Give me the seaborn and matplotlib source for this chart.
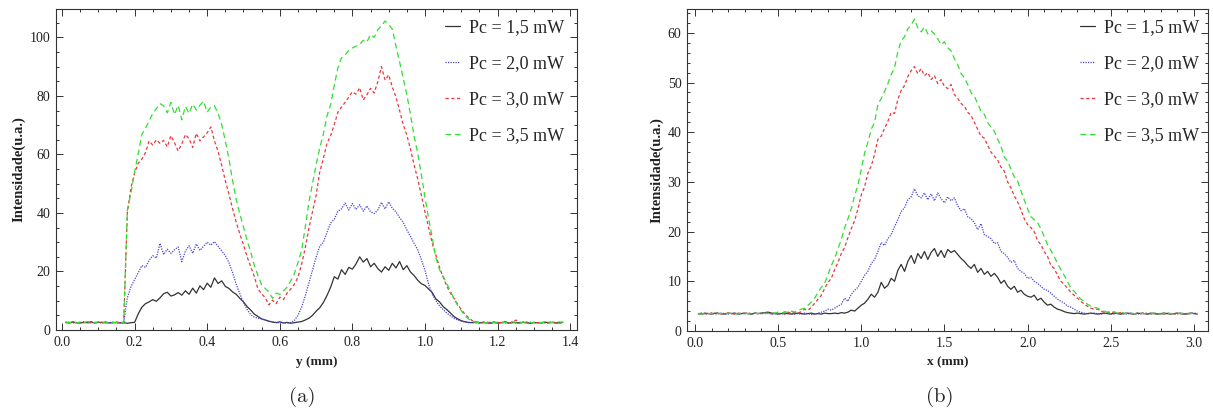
import numpy as np
import pandas as pd
import matplotlib
matplotlib.use("Agg")
import matplotlib.pyplot as plt
import seaborn as sns
from matplotlib.ticker import MultipleLocator, FormatStrFormatter

# ---------------- data: panel (a), y (mm) ----------------
y_mm = np.round(np.linspace(0.01, 1.38, 138), 2)

a_15 = [2.6,2.4,2.7,2.5,2.4,2.6,2.5,2.8,2.4,2.6,
        2.5,2.7,2.4,2.5,2.6,2.4,2.5,2.3,2.5,2.6,
        5.5,7.8,9.0,9.6,10.4,9.8,11.0,12.4,12.9,11.6,
        12.0,12.8,11.9,13.4,12.2,14.3,12.6,15.1,13.8,16.0,
        14.6,17.8,15.9,16.8,14.9,14.2,13.0,12.2,10.8,9.6,
        8.0,6.8,5.4,4.6,3.8,3.4,3.0,2.7,2.5,2.8,
        2.4,2.6,2.3,2.5,2.7,2.9,3.4,4.0,5.0,6.4,
        7.6,9.4,11.8,14.6,18.2,17.4,20.6,19.0,21.4,20.8,
        22.6,25.0,23.2,24.4,21.6,22.8,21.0,19.8,21.6,20.4,
        22.8,21.2,23.4,20.6,22.0,19.8,18.6,17.0,15.8,15.2,
        14.0,12.8,10.6,9.6,8.0,7.0,5.8,4.6,3.8,3.2,
        2.8,2.6,2.5,2.7,2.4,2.6,2.5,2.3,2.6,2.4,
        2.5,2.7,2.4,2.6,2.5,2.4,2.6,2.5,2.3,2.6,
        2.5,2.4,2.7,2.5,2.6,2.4,2.5,2.6]

a_20 = [2.5,2.7,2.4,2.6,2.5,2.8,2.4,2.6,2.5,2.7,
        2.4,2.6,2.5,2.7,2.4,2.5,2.4,11.0,14.8,17.2,
        19.6,22.0,21.4,23.8,25.4,24.6,29.6,25.8,27.6,26.2,
        27.4,28.4,23.4,27.0,28.8,26.2,29.4,27.2,28.6,30.0,
        29.0,30.2,28.6,27.0,25.4,23.0,19.6,15.6,12.4,9.4,
        7.0,5.2,4.4,4.0,3.8,3.4,3.0,2.8,2.6,2.4,
        2.5,2.3,2.6,3.2,5.0,7.8,11.6,16.0,20.4,24.8,
        28.6,30.0,33.4,36.6,37.8,40.6,41.4,43.4,41.0,43.2,
        41.2,42.8,40.6,42.4,40.4,39.8,41.0,43.6,41.4,43.8,
        41.6,40.4,38.4,36.8,34.2,32.0,29.6,27.4,24.0,20.4,
        15.6,12.2,10.0,8.2,7.0,5.8,4.8,4.0,3.4,3.0,
        2.7,2.5,2.6,2.4,2.5,2.7,2.4,2.6,2.5,2.4,
        2.6,2.5,2.3,2.6,2.4,2.5,2.7,2.4,2.6,2.5,
        2.4,2.6,2.5,2.3,2.6,2.5,2.4,2.6]

a_30 = [2.6,2.5,2.8,2.4,2.6,2.5,2.7,2.4,2.6,2.5,
        2.7,2.4,2.6,2.5,2.8,2.4,2.6,40.0,48.6,53.6,
        57.0,58.4,60.6,64.6,63.2,65.0,63.8,64.8,62.6,66.4,
        64.0,61.2,63.6,66.8,65.4,62.4,67.2,64.6,66.0,67.4,
        69.4,64.6,61.0,56.2,51.0,46.4,41.4,36.8,32.8,29.2,
        25.0,21.6,18.2,14.0,12.4,11.0,8.6,10.2,9.0,11.2,
        10.4,12.6,14.0,15.6,18.0,22.4,28.0,34.6,40.4,46.0,
        54.0,58.6,63.8,66.4,70.2,74.4,76.2,77.8,79.6,81.4,
        80.6,82.8,78.6,80.4,82.6,81.0,84.8,90.0,85.4,87.2,
        83.0,79.6,75.0,70.2,66.6,61.8,56.4,51.6,46.0,40.4,
        35.0,29.6,25.6,21.4,18.0,15.0,12.6,10.8,8.8,7.0,
        5.4,4.2,3.2,2.8,2.6,2.4,2.7,2.5,2.8,2.4,
        2.6,2.9,2.5,2.4,3.4,2.6,2.5,2.7,2.4,2.6,
        2.5,2.7,2.4,2.6,2.8,2.5,2.4,2.6]

a_35 = [2.7,2.5,2.8,2.4,2.7,2.5,2.9,2.6,2.5,2.8,
        2.6,2.4,2.7,2.5,2.6,2.8,2.5,41.0,46.8,54.0,
        60.2,66.8,69.0,71.4,74.0,75.6,77.4,76.6,74.2,77.8,
        73.6,76.8,71.8,76.4,74.0,77.2,75.2,76.8,78.2,74.4,
        76.2,76.6,74.0,70.2,64.6,58.4,51.0,44.6,39.6,35.2,
        30.6,26.6,22.0,18.6,15.4,14.2,13.0,10.8,12.6,12.2,
        13.4,14.6,16.8,19.2,23.0,27.2,35.0,43.6,50.0,56.4,
        62.2,67.0,73.2,77.0,83.6,89.6,93.0,94.0,95.6,96.4,
        97.0,97.6,99.0,98.4,101.0,100.0,102.6,104.0,105.6,104.4,
        102.8,97.0,91.6,86.0,80.4,73.6,66.2,60.4,53.0,45.2,
        38.0,31.6,24.6,20.6,18.4,15.8,13.4,10.6,8.4,6.6,
        4.8,3.8,3.0,2.6,2.5,2.8,2.4,2.6,2.5,2.7,
        2.4,2.6,2.5,2.8,2.6,2.4,2.7,2.5,2.6,2.4,
        2.6,2.5,2.7,2.4,2.6,2.5,2.8,2.6]

# ---------------- data: panel (b), x (mm) ----------------
x_mm = np.round(np.linspace(0.02, 3.02, 151), 2)

b_15 = [3.5,3.4,3.6,3.5,3.4,3.6,3.5,3.5,3.4,3.6,
        3.5,3.6,3.4,3.5,3.6,3.5,3.4,3.6,3.5,3.6,
        3.7,3.8,3.6,3.5,3.4,3.5,3.6,3.5,3.4,3.5,
        3.6,3.5,3.4,3.5,3.6,3.4,3.5,3.4,3.6,3.5,
        3.5,3.6,3.5,3.7,3.6,3.8,4.2,4.0,4.6,5.2,
        5.6,6.4,7.4,6.8,7.8,9.8,8.6,9.2,10.6,10.0,
        12.2,13.4,12.0,14.0,15.2,13.6,15.6,14.6,16.0,14.4,
        15.8,16.6,15.0,16.2,14.8,16.4,15.8,16.2,15.4,14.6,
        14.0,13.2,12.6,13.4,11.8,12.6,11.4,12.0,11.0,11.6,
        10.8,9.6,10.2,9.0,8.4,9.0,7.8,8.2,7.4,7.0,
        6.8,7.2,6.2,6.6,5.8,5.2,5.4,4.8,4.4,4.2,
        3.9,3.7,3.6,3.5,3.6,3.5,3.4,3.5,3.6,3.5,
        3.4,3.5,3.6,3.5,3.4,3.6,3.5,3.4,3.5,3.6,
        3.5,3.4,3.6,3.5,3.5,3.4,3.6,3.5,3.4,3.5,
        3.6,3.5,3.4,3.5,3.6,3.5,3.4,3.5,3.6,3.5,
        3.4]

b_20 = [3.5,3.6,3.4,3.5,3.6,3.4,3.5,3.6,3.5,3.4,
        3.6,3.5,3.4,3.6,3.5,3.5,3.4,3.6,3.5,3.6,
        3.5,3.6,3.4,3.5,3.6,3.5,3.4,3.5,3.6,3.4,
        3.5,3.4,3.6,3.5,3.3,3.4,3.6,3.8,4.0,4.4,
        4.2,4.6,5.0,5.4,6.6,6.0,7.4,8.2,8.8,10.0,
        11.2,12.0,13.6,14.4,16.0,17.8,17.2,18.6,19.4,21.0,
        22.4,24.0,24.8,26.4,27.0,28.6,27.2,26.8,27.8,26.4,
        27.6,26.2,27.8,26.6,25.8,27.0,26.2,26.8,25.2,24.2,
        24.6,23.0,22.6,21.8,20.4,21.6,19.4,19.0,18.6,17.6,
        17.8,16.0,15.6,14.8,13.8,14.2,12.6,12.0,11.6,10.6,
        10.8,10.0,9.6,9.0,8.4,8.2,7.6,7.0,6.4,6.0,
        5.6,5.0,4.8,4.4,4.0,3.8,3.6,3.5,3.5,3.6,
        3.5,3.4,3.5,3.6,3.5,3.4,3.6,3.5,3.5,3.4,
        3.6,3.5,3.4,3.5,3.6,3.5,3.4,3.6,3.5,3.5,
        3.4,3.6,3.5,3.5,3.4,3.6,3.5,3.4,3.5,3.6,
        3.5]

b_30 = [3.4,3.6,3.5,3.4,3.6,3.5,3.7,3.4,3.5,3.6,
        3.5,3.4,3.6,3.5,3.5,3.7,3.4,3.6,3.5,3.5,
        3.5,3.6,3.4,3.7,3.5,3.6,3.4,3.8,3.6,3.7,
        3.6,3.9,4.4,4.2,4.8,5.6,6.4,7.2,8.6,9.8,
        10.6,12.4,13.8,15.6,16.8,18.8,20.6,22.2,24.6,27.4,
        29.0,31.8,33.2,35.6,38.6,39.2,40.8,42.2,44.0,43.8,
        46.6,48.4,49.4,51.2,52.4,53.2,51.8,52.8,51.4,52.0,
        50.6,51.4,49.8,50.6,49.2,48.8,49.6,47.6,46.8,45.8,
        45.2,44.0,43.4,42.0,40.6,39.2,38.8,37.4,36.0,35.2,
        34.4,33.0,32.2,30.0,28.8,27.2,26.0,24.4,22.6,21.4,
        20.8,20.0,18.2,17.4,16.0,15.0,13.2,12.6,11.2,10.0,
        9.4,8.6,7.8,7.2,6.6,6.0,5.4,5.0,4.6,4.4,
        4.4,4.0,3.8,3.7,3.9,3.6,3.5,3.7,3.5,3.6,
        3.5,3.4,3.6,3.5,3.7,3.5,3.4,3.6,3.5,3.5,
        3.4,3.6,3.5,3.4,3.6,3.5,3.5,3.4,3.6,3.5,
        3.5]

b_35 = [3.5,3.4,3.6,3.5,3.5,3.4,3.6,3.5,3.4,3.6,
        3.5,3.6,3.4,3.5,3.6,3.5,3.4,3.6,3.5,3.7,
        3.6,3.5,3.7,3.6,3.8,3.6,3.9,3.7,4.0,3.8,
        4.2,4.4,4.6,5.2,5.8,6.6,7.8,8.8,9.6,11.4,
        13.2,14.6,16.6,18.4,20.8,22.6,24.6,27.2,29.4,32.6,
        35.8,38.0,40.6,42.0,45.6,46.8,48.2,49.8,51.6,53.0,
        56.2,58.4,59.2,60.8,61.6,62.8,61.0,60.2,61.2,59.8,
        60.4,59.8,58.8,57.6,58.2,57.0,56.4,54.8,53.6,51.8,
        51.0,49.6,48.0,47.2,45.8,44.2,43.6,42.0,41.0,40.2,
        38.6,37.2,35.0,34.2,32.6,31.0,30.2,28.2,26.4,24.6,
        23.0,22.4,21.8,20.6,19.0,17.4,16.2,15.0,13.6,12.4,
        11.2,10.0,8.6,8.0,7.2,6.4,6.0,5.4,5.0,4.8,
        4.6,4.2,4.0,3.8,3.7,3.9,3.6,3.8,3.6,3.5,
        3.6,3.5,3.4,3.6,3.5,3.5,3.4,3.6,3.5,3.4,
        3.5,3.6,3.5,3.4,3.5,3.6,3.5,3.4,3.5,3.6,
        3.5]

labels = ["Pc = 1,5 mW", "Pc = 2,0 mW", "Pc = 3,0 mW", "Pc = 3,5 mW"]
colors = ["#333333", "#4646d6", "#e8383d", "#33dd33"]
styles = ["-", (0, (1, 1)), (0, (2.6, 2.0)), (0, (4.6, 3.0))]

# ---------------- figure ----------------
sns.set_style("ticks")
plt.rcParams["font.family"] = ["Liberation Serif", "DejaVu Serif"]
plt.rcParams["axes.edgecolor"] = "#333333"
plt.rcParams["xtick.color"] = "#333333"
plt.rcParams["ytick.color"] = "#333333"

fig = plt.figure(figsize=(12.13, 4.19), dpi=100)
ax1 = fig.add_axes([56/1213, 1-330/419, 521/1213, 321/419])
ax2 = fig.add_axes([687/1213, 1-331/419, 521/1213, 322/419])

def draw(ax, x, series, xlabel, xlim, ylim, xmaj, xmin, ymaj, ymin, legx):
    for s, lab, c, ls in zip(series, labels, colors, styles):
        sns.lineplot(x=x, y=s, ax=ax, color=c, linestyle=ls, linewidth=0.9,
                     label=lab, estimator=None, sort=False)
    ax.set_xlim(*xlim)
    ax.set_ylim(*ylim)
    ax.xaxis.set_major_locator(MultipleLocator(xmaj))
    ax.xaxis.set_minor_locator(MultipleLocator(xmin))
    ax.yaxis.set_major_locator(MultipleLocator(ymaj))
    ax.yaxis.set_minor_locator(MultipleLocator(ymin))
    ax.xaxis.set_major_formatter(FormatStrFormatter("%.1f"))
    ax.tick_params(which="both", direction="in", top=True, right=True,
                   labelsize=10, labelcolor="#222222", width=0.7)
    ax.tick_params(which="major", length=5, pad=4)
    ax.tick_params(which="minor", length=2.5)
    for sp in ax.spines.values():
        sp.set_linewidth(0.8)
    ax.set_xlabel(xlabel, fontsize=9.5, labelpad=5, color="#222222",
                  fontweight="bold")
    ax.set_ylabel("Intensidade(u.a.)", fontsize=10.5, labelpad=3,
                  color="#222222", fontweight="bold")
    ax.legend(loc="upper left", bbox_to_anchor=(legx, 0.968), frameon=False,
              fontsize=13, handlelength=0.83, handletextpad=0.5,
              labelspacing=1.05, borderpad=0, borderaxespad=0)

draw(ax1, y_mm, [a_15, a_20, a_30, a_35], "y (mm)", (-0.0165, 1.4187), (0, 109.7),
     0.2, 0.05, 20, 5, 0.747)
draw(ax2, x_mm, [b_15, b_20, b_30, b_35], "x (mm)", (-0.048, 3.085), (0, 64.8),
     0.5, 0.1, 10, 2, 0.754)

fig.text(302/1213, 1-397/419, "(a)", ha="center", va="center", fontsize=15,
         family=["cmr10", "DejaVu Serif"])
fig.text(940/1213, 1-397/419, "(b)", ha="center", va="center", fontsize=15,
         family=["cmr10", "DejaVu Serif"])

fig.savefig("out.png", dpi=100)
